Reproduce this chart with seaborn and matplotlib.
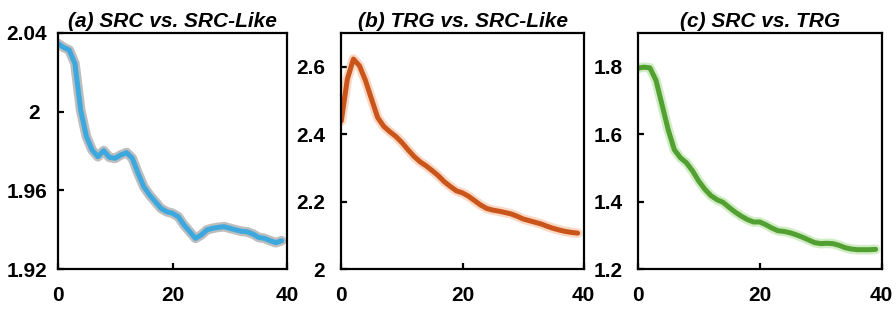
import numpy as np
import pandas as pd
import seaborn as sns
import matplotlib
matplotlib.use("Agg")
import matplotlib.pyplot as plt
import matplotlib.patheffects as pe
from matplotlib.transforms import ScaledTranslation

epochs = list(range(40))

src_vs_srclike = [2.0346, 2.0326, 2.0312, 2.0244, 2.0008, 1.9873, 1.9805, 1.9771, 1.9802, 1.9768,
                  1.9763, 1.9780, 1.9792, 1.9763, 1.9687, 1.9619, 1.9577, 1.9543, 1.9509, 1.9492,
                  1.9484, 1.9467, 1.9425, 1.9391, 1.9357, 1.9374, 1.9400, 1.9408, 1.9413, 1.9416,
                  1.9408, 1.9400, 1.9393, 1.9390, 1.9379, 1.9362, 1.9357, 1.9345, 1.9335, 1.9345]

trg_vs_srclike = [2.439, 2.563, 2.622, 2.602, 2.558, 2.503, 2.449, 2.423, 2.407, 2.393,
                  2.375, 2.354, 2.334, 2.318, 2.306, 2.292, 2.277, 2.259, 2.245, 2.232,
                  2.226, 2.216, 2.203, 2.190, 2.180, 2.175, 2.172, 2.168, 2.164, 2.157,
                  2.149, 2.144, 2.139, 2.134, 2.127, 2.121, 2.116, 2.112, 2.109, 2.107]

src_vs_trg = [1.795, 1.798, 1.796, 1.759, 1.686, 1.613, 1.554, 1.530, 1.515, 1.491,
              1.461, 1.437, 1.418, 1.406, 1.398, 1.383, 1.369, 1.357, 1.347, 1.340,
              1.340, 1.332, 1.322, 1.314, 1.312, 1.308, 1.302, 1.295, 1.287, 1.279,
              1.276, 1.277, 1.276, 1.271, 1.264, 1.260, 1.258, 1.258, 1.258, 1.259]

titles = ["(a) SRC vs. SRC-Like", "(b) TRG vs. SRC-Like", "(c) SRC vs. TRG"]
series = [src_vs_srclike, trg_vs_srclike, src_vs_trg]
colors = ["#3DA8DD", "#C9551B", "#52A032"]
halos = ["#2A2A2A", "#F0A070", "#8FD070"]
halo_alpha = [0.3, 0.4, 0.4]
ylims = [(1.92, 2.04), (2.0, 2.7), (1.2, 1.9)]
yticks = [[1.92, 1.96, 2.0, 2.04], [2.0, 2.2, 2.4, 2.6], [1.2, 1.4, 1.6, 1.8]]
yticklabels = [["1.92", "1.96", "2", "2.04"], ["2", "2.2", "2.4", "2.6"], ["1.2", "1.4", "1.6", "1.8"]]
xticks = [0, 20, 40]

sns.set_theme(style="white")
plt.rcParams['font.family'] = ['Liberation Sans', 'DejaVu Sans']
plt.rcParams['text.color'] = 'black'

fig = plt.figure(figsize=(8.96, 3.15), dpi=100)
positions = [
    [57.7 / 896, 45.7 / 315, 229.6 / 896, 236.6 / 315],
    [341.3 / 896, 45.7 / 315, 242.4 / 896, 236.6 / 315],
    [637.7 / 896, 45.7 / 315, 244.0 / 896, 236.6 / 315],
]
ypads = [7.5, 11.5, 11]

for i in range(3):
    ax = fig.add_axes(positions[i])
    df = pd.DataFrame({"epoch": epochs, "value": series[i]})
    sns.lineplot(data=df, x="epoch", y="value", ax=ax, color=colors[i], linewidth=3.6,
                 path_effects=[pe.Stroke(linewidth=7, foreground=halos[i], alpha=halo_alpha[i]),
                               pe.Normal()])
    ax.set_xlim(0, 40)
    ax.set_ylim(*ylims[i])
    ax.set_xticks(xticks)
    ax.set_xticklabels([str(t) for t in xticks])
    ax.set_yticks(yticks[i])
    ax.set_yticklabels(yticklabels[i])
    ax.set_xlabel("")
    ax.set_ylabel("")
    ax.set_title(titles[i], fontsize=15, fontweight="bold", fontstyle="italic", pad=4,
                 color="black")
    for s in ax.spines.values():
        s.set_visible(True)
        s.set_color("black")
        s.set_linewidth(1.6)
    ax.tick_params(axis="both", direction="in", length=4, width=1.6, colors="black",
                   left=True, bottom=True)
    ax.tick_params(axis="x", pad=12, labelsize=15)
    ax.tick_params(axis="y", pad=ypads[i], labelsize=15)
    for lab in ax.get_xticklabels() + ax.get_yticklabels():
        lab.set_fontweight("bold")
    ax.grid(False)
    if i == 0:
        lab = ax.get_yticklabels()[2]
        lab.set_transform(lab.get_transform() + ScaledTranslation(-5 / 72, 0, fig.dpi_scale_trans))

fig.savefig("out.png", dpi=100)
